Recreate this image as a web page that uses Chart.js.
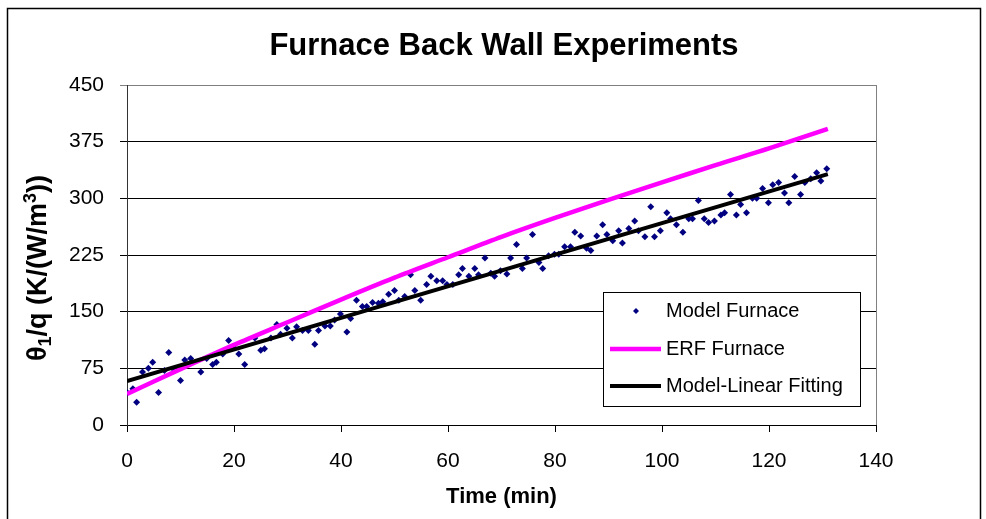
<!DOCTYPE html>
<html lang="en">
<head>
  <meta charset="UTF-8">
  <title>Furnace Back Wall Experiments</title>
  <script src="https://cdn.jsdelivr.net/npm/chart.js"></script>
  <style>
    body {
      margin: 0;
      background: #ffffff;
    }
    #chartFurnace {
      display: block;
    }
  </style>
</head>
<body>
  <canvas id="chartFurnace" width="986" height="519"></canvas>
  <script>
    // Model furnace measurements: time (min) and theta1/q (K/(W/m3))
    const modelTime = [
      0, 1.1, 1.8, 2.9, 4.0, 4.8, 5.9, 7.0, 7.8, 8.9, 10.0, 10.8, 11.9, 13.8, 14.9, 16.0, 16.7, 17.9, 19.0, 19.8,
      20.9, 22.0, 23.9, 25.0, 25.7, 26.9, 28.0, 28.7, 29.9, 30.9, 31.7, 32.8, 33.9, 35.1, 35.8, 37.0, 38.0, 38.8, 39.9,
      41.1, 41.8, 42.9, 44.0, 44.8, 45.9, 47.0, 47.8, 48.9, 50.0, 50.8, 51.9, 53.0, 53.8, 54.9, 56.0, 56.8, 57.9, 59.0,
      59.8, 60.9, 62.0, 62.7, 63.9, 65.0, 65.7, 66.9, 68.0, 68.7, 69.8, 71.0, 71.7, 72.8, 73.9, 74.7, 75.8, 77.0, 77.7,
      78.8, 79.9, 80.7, 81.8, 82.9, 83.7, 84.8, 85.9, 86.7, 87.8, 88.9, 89.7, 90.8, 91.9, 92.6, 93.8, 94.9, 95.6, 96.8,
      97.9, 98.6, 99.7, 100.9, 101.6, 102.7, 103.9, 105.0, 105.7, 106.8, 107.9, 108.7, 109.8, 111.0, 111.7, 112.8, 113.9,
      114.7, 115.8, 116.9, 117.7, 118.8, 119.9, 120.7, 121.8, 122.9, 123.7, 124.8, 125.9, 126.7, 127.8, 128.9, 129.7, 130.8
    ];
    const modelTheta = [
      43, 48, 30, 70, 75, 83, 43, 72, 96, 72, 59, 86, 88, 70, 88, 80, 83, 94, 112, 104,
      94, 80, 115, 99, 101, 115, 133, 120, 128, 115, 130, 125, 125, 107, 125, 131, 131, 139, 147,
      123, 141, 165, 157, 157, 162, 161, 163, 173, 178, 165, 170, 199, 178, 165, 186, 197, 191, 191,
      186, 186, 199, 207, 197, 207, 199, 221, 201, 197, 204, 200, 221, 239, 207, 221, 252, 215, 207,
      224, 226, 226, 236, 236, 255, 250, 234, 231, 250, 265, 252, 244, 257, 241, 260, 270, 257, 249,
      289, 249, 257, 281, 273, 265, 255, 273, 273, 297, 273, 268, 270, 278, 281, 305, 278,
      292, 281, 300, 300, 313, 294, 318, 321, 307, 294, 329, 305, 321, 326, 334, 323, 339
    ];

    // ERF furnace curve
    const erfTime = [0, 10, 20, 30, 40, 50, 60, 70, 80, 90, 100, 110, 120, 131];
    const erfTheta = [41, 74, 106, 136, 166, 195, 222, 249, 274, 298, 321, 344, 366, 392];

    // straight-line fit of the model data
    const fitTime = [0, 131];
    const fitTheta = [58, 332];

    const xTicks = { min: 0, max: 140, step: 20 };
    const yTicks = { min: 0, max: 450, step: 75 };

    // y-axis title pieces: [text, kind] where kind is 'n', 'sub' or 'sup'
    const yTitleParts = [['θ', 'n'], ['1', 'sub'], ['/q (K/(W/m', 'n'], ['3', 'sup'], ['))', 'n']];

    const FONT = 'Arial, "Liberation Sans", sans-serif';

    function toPoints(xs, ys) {
      return xs.map((x, i) => ({ x: x, y: ys[i] }));
    }

    // white page with the black outer frame
    const frame = {
      id: 'frame',
      beforeDraw(chart) {
        const c = chart.ctx;
        c.save();
        c.fillStyle = '#ffffff';
        c.fillRect(0, 0, chart.width, chart.height);
        c.strokeStyle = '#000000';
        c.lineWidth = 1.5;
        c.strokeRect(7.5, 8.5, 973, 530);
        c.restore();
      },
      beforeDatasetsDraw(chart) {
        const a = chart.chartArea;
        const c = chart.ctx;
        c.save();
        c.strokeStyle = '#808080';
        c.lineWidth = 1;
        c.beginPath();
        c.moveTo(a.right + 0.5, a.top);
        c.lineTo(a.right + 0.5, a.bottom);
        c.stroke();
        c.restore();
      }
    };

    // rotated y title with a real subscript and superscript
    const yTitle = {
      id: 'yTitle',
      afterDraw(chart) {
        const c = chart.ctx;
        const big = 'bold 27px ' + FONT;
        const small = 'bold 18px ' + FONT;
        c.save();
        c.translate(37, 268);
        c.rotate(-Math.PI / 2);
        c.fillStyle = '#000000';
        c.textBaseline = 'alphabetic';
        let total = 0;
        yTitleParts.forEach(([t, k]) => {
          c.font = k === 'n' ? big : small;
          total += c.measureText(t).width;
        });
        let x = -total / 2;
        yTitleParts.forEach(([t, k]) => {
          c.font = k === 'n' ? big : small;
          const dy = k === 'sub' ? 5 : (k === 'sup' ? -10 : 0);
          c.fillText(t, x, 9 + dy);
          x += c.measureText(t).width;
        });
        c.restore();
      }
    };

    // boxed legend inside the plot area
    const legendBox = {
      id: 'legendBox',
      afterDraw(chart) {
        const c = chart.ctx;
        const bx = 603, by = 292, bw = 257, bh = 114;
        c.save();
        c.fillStyle = '#ffffff';
        c.fillRect(bx, by, bw, bh);
        c.strokeStyle = '#000000';
        c.lineWidth = 1;
        c.strokeRect(bx + 0.5, by + 0.5, bw, bh);
        c.font = '20px ' + FONT;
        c.textBaseline = 'middle';
        c.fillStyle = '#000000';
        const rows = [by + 19, by + 57, by + 94];
        chart.data.datasets.forEach((ds, i) => {
          const y = rows[i];
          if (ds.showLine) {
            c.strokeStyle = ds.borderColor;
            c.lineWidth = ds.borderWidth;
            c.beginPath();
            c.moveTo(bx + 7, y);
            c.lineTo(bx + 58, y);
            c.stroke();
          } else {
            c.fillStyle = ds.backgroundColor;
            c.beginPath();
            c.moveTo(bx + 33, y - 3);
            c.lineTo(bx + 36, y);
            c.lineTo(bx + 33, y + 3);
            c.lineTo(bx + 30, y);
            c.closePath();
            c.fill();
          }
          c.fillStyle = '#000000';
          c.fillText(ds.label, bx + 63, y);
        });
        c.restore();
      }
    };

    new Chart(document.getElementById('chartFurnace'), {
      type: 'scatter',
      data: {
        datasets: [
          {
            label: 'Model Furnace',
            data: toPoints(modelTime, modelTheta),
            pointStyle: 'rectRot',
            pointRadius: 3.5,
            borderWidth: 0,
            backgroundColor: '#000080',
            borderColor: '#000080',
            order: 3
          },
          {
            label: 'ERF Furnace',
            data: toPoints(erfTime, erfTheta),
            showLine: true,
            borderColor: '#ff00ff',
            backgroundColor: '#ff00ff',
            borderWidth: 4.5,
            pointRadius: 0,
            tension: 0.3,
            order: 2
          },
          {
            label: 'Model-Linear Fitting',
            data: toPoints(fitTime, fitTheta),
            showLine: true,
            borderColor: '#000000',
            backgroundColor: '#000000',
            borderWidth: 4,
            pointRadius: 0,
            order: 1
          }
        ]
      },
      options: {
        responsive: false,
        animation: false,
        devicePixelRatio: 1,
        layout: { padding: { left: 22, right: 0, top: 16, bottom: 0 } },
        plugins: {
          legend: { display: false },
          tooltip: { enabled: false },
          title: {
            display: true,
            text: 'Furnace Back Wall Experiments',
            color: '#000000',
            font: { family: FONT, size: 31, weight: 'bold' },
            padding: { top: 12, bottom: 19.8 }
          }
        },
        scales: {
          x: {
            type: 'linear',
            min: xTicks.min,
            max: xTicks.max,
            ticks: { stepSize: xTicks.step, color: '#000000', font: { family: FONT, size: 21 }, padding: 17 },
            grid: { drawOnChartArea: false, tickLength: 7, color: '#000000' },
            border: { color: '#000000', width: 1 },
            title: {
              display: true,
              text: 'Time (min)',
              color: '#000000',
              font: { family: FONT, size: 22, weight: 'bold' },
              padding: { top: 0, bottom: 9 }
            },
            afterFit(scale) { scale.height = 94; }
          },
          y: {
            min: yTicks.min,
            max: yTicks.max,
            ticks: { stepSize: yTicks.step, color: '#000000', font: { family: FONT, size: 21 }, padding: 16 },
            grid: {
              tickLength: 7,
              color: ctx => (ctx.tick && ctx.tick.value === yTicks.max ? '#808080' : '#000000')
            },
            border: { color: '#333333', width: 1 },
            title: { display: false },
            afterFit(scale) { scale.width = 105; }
          },
          // empty right-hand margin so the title centres on the whole frame
          yRight: {
            position: 'right',
            display: true,
            ticks: { display: false },
            grid: { display: false },
            border: { display: false },
            afterFit(scale) { scale.width = 110; }
          }
        }
      },
      plugins: [frame, yTitle, legendBox]
    });
  </script>
</body>
</html>
